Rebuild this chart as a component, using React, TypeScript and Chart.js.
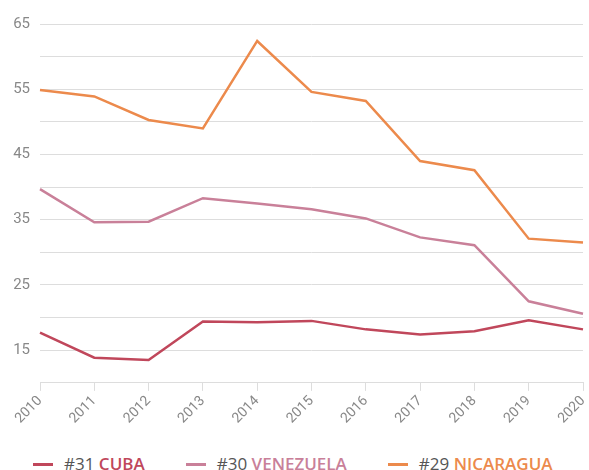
import React, { useEffect, useRef } from "react";
import { Chart, registerables } from "chart.js";

Chart.register(...registerables);

const years = ["2010", "2011", "2012", "2013", "2014", "2015", "2016", "2017", "2018", "2019", "2020"];
const cuba = [17.7, 13.85, 13.5, 19.4, 19.3, 19.5, 18.2, 17.4, 17.9, 19.6, 18.2];
const venezuela = [39.7, 34.6, 34.7, 38.3, 37.5, 36.6, 35.2, 32.3, 31.1, 22.5, 20.6];
const nicaragua = [54.9, 53.9, 50.3, 49.0, 62.4, 54.6, 53.2, 44.0, 42.6, 32.1, 31.5];

const seriesNames = ["CUBA", "VENEZUELA", "NICARAGUA"];
const seriesRanks = ["#31", "#30", "#29"];
const seriesColors = ["#c0475b", "#c98099", "#ec8a4c"];
const seriesData = [cuba, venezuela, nicaragua];

export default function App() {
  const ref = useRef<HTMLCanvasElement | null>(null);
  useEffect(() => {
    document.body.style.margin = "0";
    const ctx = ref.current!;
    const chart = new Chart(ctx, {
      type: "line",
      data: {
        labels: years,
        datasets: seriesData.map((d, i) => ({
          label: seriesNames[i],
          data: d,
          borderColor: seriesColors[i],
          backgroundColor: seriesColors[i],
          borderWidth: 2.5,
          pointRadius: 0,
          tension: 0,
        })),
      },
      options: {
        animation: false,
        responsive: false,
        layout: { padding: { top: 24, right: 6, left: 0, bottom: 0 } },
        plugins: { legend: { display: false }, tooltip: { enabled: false } },
        scales: {
          x: {
            grid: { drawOnChartArea: false, drawTicks: true, tickLength: 8, color: "#dddddd" },
            border: { color: "#dddddd" },
            afterFit: (scale: any) => {
              scale.paddingRight = 0;
            },
            ticks: {
              color: "#888888",
              font: { family: "Roboto", size: 14 },
              maxRotation: 45,
              minRotation: 45,
              padding: 2,
            },
          },
          y: {
            min: 10,
            max: 65,
            grid: { color: "#dddddd", drawTicks: false },
            border: { display: false },
            afterFit: (scale: any) => {
              scale.width = 40;
            },
            ticks: {
              stepSize: 5,
              padding: 10,
              color: "#888888",
              font: { family: "Roboto", size: 15 },
              callback: (v: any) => ((Number(v) - 15) % 10 === 0 ? String(v) : ""),
            },
          },
        },
      },
    });
    return () => chart.destroy();
  }, []);

  return (
    <div style={{ position: "relative", width: 589, height: 470, overflow: "hidden" }}>
      <canvas ref={ref} width={589} height={429} style={{ display: "block" }} />
      <div
        style={{
          position: "absolute",
          top: 451,
          left: 33,
          display: "flex",
          alignItems: "center",
          fontFamily: "'Open Sans', 'Noto Sans', sans-serif",
          fontSize: 17,
          lineHeight: "26px",
          whiteSpace: "nowrap",
        }}
      >
        {seriesNames.map((n, i) => (
          <div key={n} style={{ display: "flex", alignItems: "center", marginRight: 41 }}>
            <span style={{ display: "inline-block", width: 20, height: 3, background: seriesColors[i], marginRight: 11 }} />
            <span style={{ color: "#555555" }}>{seriesRanks[i]}&nbsp;</span>
            <span style={{ color: seriesColors[i], fontWeight: 600 }}>{n}</span>
          </div>
        ))}
      </div>
    </div>
  );
}
